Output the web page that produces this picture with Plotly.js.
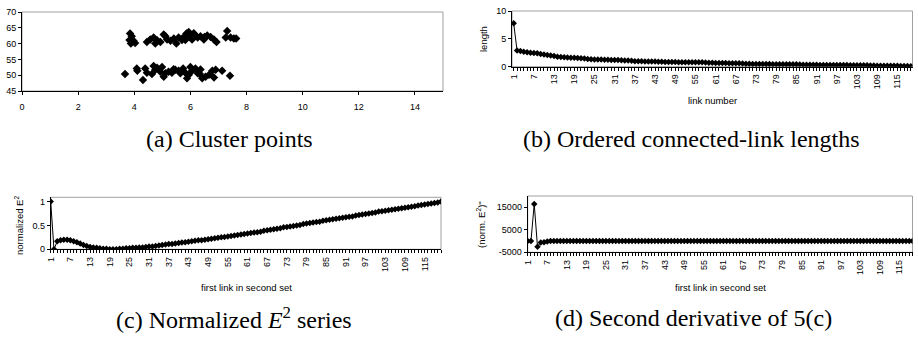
<!DOCTYPE html>
<html><head><meta charset="utf-8">
<script src="https://cdn.plot.ly/plotly-3.0.1.min.js"></script>
<style>html,body{margin:0;padding:0;background:#fff;} #chart{width:918px;height:342px;}</style>
</head><body><div id="chart"></div>
<script>
// (a) cluster points
const clusterX = [3.85,3.91,3.83,3.88,3.97,4.03,4.45,4.57,4.69,4.81,4.75,4.93,5.05,5.11,5.17,5.29,5.41,5.50,5.58,5.70,5.79,5.86,5.94,6.00,6.06,6.12,6.18,6.26,6.36,6.48,6.60,6.72,6.84,6.93,7.31,7.43,7.55,7.63,7.26,5.82,6.50,
  3.67,4.09,4.11,4.31,4.39,4.45,4.63,4.69,4.75,4.81,4.93,4.99,5.05,5.11,5.22,5.34,5.46,5.58,5.64,5.74,5.82,5.88,5.94,6.00,6.06,6.18,6.26,6.36,6.42,6.54,6.66,6.78,6.90,7.13,7.41,6.34,5.40,6.84];
const clusterY = [63.2,62.3,61.1,60.0,60.9,60.2,60.5,61.3,61.9,61.1,60.0,60.5,62.9,62.3,61.3,60.9,61.6,60.0,61.9,61.1,62.3,63.2,63.7,62.1,61.3,63.3,62.6,61.9,62.3,61.3,62.6,62.1,61.3,60.5,64.0,61.9,61.6,61.6,61.9,61.1,62.1,
  50.4,52.1,51.4,48.5,52.1,50.8,50.4,52.9,51.7,52.4,51.1,52.6,49.5,50.6,51.1,50.8,51.7,51.4,50.6,52.1,50.8,49.0,50.1,52.6,51.4,52.1,50.6,51.8,49.0,49.5,50.1,51.4,51.7,51.4,49.8,50.4,51.9,49.3];

// (b) ordered connected-link lengths
const linkLengths = [
  7.8,2.9,2.8,2.7,2.6,2.5,2.45,2.4,2.3,2.2,
  2.1,2.0,1.9,1.8,1.75,1.7,1.65,1.6,1.6,1.55,
  1.5,1.45,1.4,1.35,1.3,1.3,1.3,1.25,1.25,1.2,
  1.2,1.2,1.15,1.1,1.1,1.05,1.0,1.0,1.0,0.95,
  0.95,0.95,0.95,0.9,0.9,0.85,0.85,0.85,0.85,0.8,
  0.8,0.8,0.8,0.8,0.8,0.78,0.78,0.75,0.72,0.7,
  0.68,0.66,0.65,0.65,0.64,0.63,0.62,0.6,0.58,0.55,
  0.53,0.5,0.5,0.5,0.49,0.48,0.47,0.46,0.45,0.45,
  0.45,0.44,0.44,0.43,0.42,0.4,0.37,0.35,0.34,0.33,
  0.33,0.32,0.32,0.31,0.31,0.3,0.3,0.3,0.29,0.29,
  0.28,0.28,0.27,0.27,0.26,0.24,0.22,0.2,0.19,0.18,
  0.17,0.17,0.16,0.16,0.15,0.14,0.13,0.12,0.1];

// (c) normalized E^2 series
const e2Norm = [
  1.00,0.00,0.17,0.19,0.20,0.20,0.19,0.17,0.15,0.12,
  0.09,0.07,0.05,0.04,0.03,0.02,0.01,0.01,0.00,0.00,
  0.00,0.01,0.01,0.02,0.02,0.03,0.03,0.04,0.04,0.05,
  0.06,0.06,0.07,0.08,0.09,0.10,0.11,0.11,0.12,0.13,
  0.14,0.15,0.16,0.17,0.18,0.19,0.19,0.20,0.21,0.22,
  0.23,0.24,0.25,0.26,0.27,0.28,0.29,0.30,0.31,0.32,
  0.33,0.34,0.35,0.36,0.37,0.39,0.40,0.41,0.42,0.43,
  0.44,0.46,0.47,0.48,0.49,0.50,0.51,0.53,0.54,0.55,
  0.56,0.57,0.58,0.60,0.61,0.62,0.63,0.64,0.65,0.66,
  0.67,0.68,0.69,0.71,0.72,0.73,0.74,0.75,0.76,0.77,
  0.79,0.80,0.81,0.82,0.83,0.84,0.85,0.86,0.87,0.88,
  0.89,0.90,0.92,0.93,0.94,0.95,0.96,0.97,0.98,1.00];

// (d) second derivative of (c)
const e2SecondDeriv = [
  0,0,16500,-2500,-600,-500,-200,60,40,30,
  20,20,10,10,0,0,0,0,0,0,
  0,0,0,0,0,0,0,0,0,0,
  0,0,0,0,0,0,0,0,0,0,
  0,0,0,0,0,0,0,0,0,0,
  0,0,0,0,0,0,0,0,0,0,
  0,0,0,0,0,0,0,0,0,0,
  0,0,0,0,0,0,0,0,0,0,
  0,0,0,0,0,0,0,0,0,0,
  0,0,0,0,0,0,0,0,0,0,
  0,0,0,0,0,0,0,0,0,0,
  0,0,0,0,0,0,0,0,0];

const linkTicks = [1,7,13,19,25,31,37,43,49,55,61,67,73,79,85,91,97,103,109,115];

const idx = arr => arr.map((_, i) => i + 1);
const W = 918, H = 342;
const px = v => v / W;
const py = v => 1 - v / H;

const tickFont = {family: 'Liberation Sans, Arial, sans-serif', size: 9, color: '#000'};
const titleFont = {family: 'Liberation Sans, Arial, sans-serif', size: 9.5, color: '#000'};
const capFont = {family: '"Liberation Serif", "Times New Roman", serif', size: 24, color: '#000'};

function catAxis(domain, range, anchor) {
  return {domain: domain, range: range, anchor: anchor, tickmode: 'array', tickvals: linkTicks,
    ticktext: linkTicks.map(String), tickangle: -90, ticks: 'outside', ticklen: 3, tickcolor: '#000',
    showline: true, linecolor: '#000', linewidth: 1, showgrid: false, zeroline: false,
    minor: {tickmode: 'linear', tick0: 1, dtick: 1, ticks: 'outside', ticklen: 3, tickcolor: '#000', showgrid: false},
    tickfont: tickFont, fixedrange: true};
}
function valAxis(domain, range, anchor, extra) {
  return Object.assign({domain: domain, range: range, anchor: anchor, ticks: 'outside', ticklen: 3,
    tickcolor: '#000', showline: true, linecolor: '#000', linewidth: 1, showgrid: false, zeroline: false,
    tickfont: tickFont, fixedrange: true}, extra || {});
}

const lineMarker = {symbol: 'diamond', size: 5, color: '#000'};

const traces = [
  {x: clusterX, y: clusterY, type: 'scatter', mode: 'markers', xaxis: 'x', yaxis: 'y',
   marker: {symbol: 'diamond', size: 6.5, color: '#000'}},
  {x: idx(linkLengths), y: linkLengths, type: 'scatter', mode: 'lines+markers', xaxis: 'x2', yaxis: 'y2',
   line: {color: '#000', width: 1}, marker: lineMarker},
  {x: idx(e2Norm), y: e2Norm, type: 'scatter', mode: 'lines+markers', xaxis: 'x3', yaxis: 'y3',
   line: {color: '#000', width: 1}, marker: lineMarker},
  {x: idx(e2SecondDeriv), y: e2SecondDeriv, type: 'scatter', mode: 'lines+markers', xaxis: 'x4', yaxis: 'y4',
   line: {color: '#000', width: 1}, marker: lineMarker}
];

const boxes = [[22, 12, 443, 91], [512, 11, 912.5, 66.7], [50.7, 197.3, 441, 249.3], [527.7, 196, 912.5, 252.3]];
const dom = boxes.map(b => ({x: [px(b[0]), px(b[2])], y: [py(b[3]), py(b[1])]}));

const layout = {
  width: W, height: H, margin: {l: 0, r: 0, t: 0, b: 0}, showlegend: false,
  paper_bgcolor: '#fff', plot_bgcolor: '#fff',
  xaxis: valAxis(dom[0].x, [0, 15], 'y', {dtick: 2, tick0: 0, ticklabelstandoff: 4}),
  yaxis: valAxis(dom[0].y, [45, 70], 'x', {dtick: 5, tick0: 45}),
  xaxis2: catAxis(dom[1].x, [0.5, 119.5], 'y2'),
  yaxis2: valAxis(dom[1].y, [0, 10], 'x2', {dtick: 5, tick0: 0}),
  xaxis3: catAxis(dom[2].x, [1, 120], 'y3'),
  yaxis3: valAxis(dom[2].y, [0, 1.09], 'x3', {tickmode: 'array', tickvals: [0, 0.5, 1], ticktext: ['0', '0.5', '1']}),
  xaxis4: catAxis(dom[3].x, [1, 119], 'y4'),
  yaxis4: valAxis(dom[3].y, [-5000, 20000], 'x4', {tickmode: 'array', tickvals: [-5000, 5000, 15000], ticktext: ['-5000', '5000', '15000']}),
  shapes: boxes.map(b => ({type: 'rect', xref: 'paper', yref: 'paper', x0: px(b[0]), x1: px(b[2]),
    y0: py(b[3]), y1: py(b[1]), line: {color: '#a0a0a0', width: 1}, layer: 'below'})),
  annotations: [
    {text: 'link number', x: px(712), y: py(100), xanchor: 'center', yanchor: 'middle'},
    {text: 'length', x: px(483), y: py(39), textangle: -90, xanchor: 'center', yanchor: 'middle'},
    {text: 'first link in second set', x: px(246), y: py(287), xanchor: 'center', yanchor: 'middle'},
    {text: 'normalized E<sup>2</sup>', x: px(19), y: py(226), textangle: -90, xanchor: 'center', yanchor: 'middle'},
    {text: 'first link in second set', x: px(720), y: py(287), xanchor: 'center', yanchor: 'middle'},
    {text: "(norm. E<sup>2</sup>)''", x: px(481), y: py(225), textangle: -90, xanchor: 'center', yanchor: 'middle'}
  ].map(a => Object.assign({xref: 'paper', yref: 'paper', showarrow: false, font: titleFont}, a)).concat([
    {text: '(a) Cluster points', x: px(229.5), y: py(139)},
    {text: '(b) Ordered connected-link lengths', x: px(691.5), y: py(139)},
    {text: '(c) Normalized <i>E</i><sup>2</sup> series', x: px(234), y: py(318)},
    {text: '(d) Second derivative of 5(c)', x: px(693), y: py(318)}
  ].map(a => Object.assign({xref: 'paper', yref: 'paper', showarrow: false, font: capFont, xanchor: 'center', yanchor: 'middle'}, a)))
};

Plotly.newPlot('chart', traces, layout, {staticPlot: true, displayModeBar: false});
</script></body></html>
